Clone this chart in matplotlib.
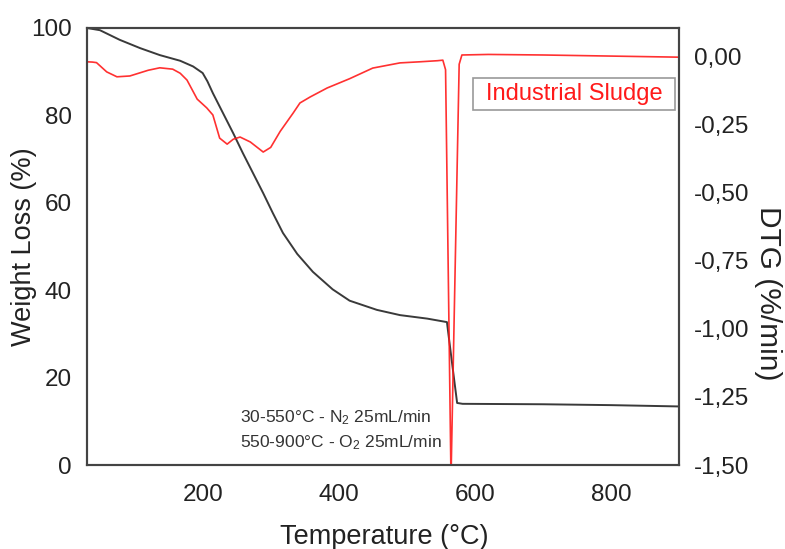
import matplotlib.pyplot as plt
from matplotlib.patches import Rectangle
from matplotlib.ticker import FuncFormatter

plt.rcParams['font.family'] = ['Liberation Sans', 'DejaVu Sans']
plt.rcParams['mathtext.fontset'] = 'custom'
plt.rcParams['mathtext.rm'] = 'Liberation Sans'
plt.rcParams['mathtext.it'] = 'Liberation Sans:italic'

# TG curve: weight (%) vs temperature (°C)
temp_tg = [30, 49, 78, 108, 137, 167, 186, 200, 207, 215, 230, 245, 259, 274,
           289, 303, 318, 339, 362, 391, 416, 456, 490, 530, 559, 566, 574,
           582, 700, 800, 900]
weight = [100, 99.5, 97.3, 95.4, 93.8, 92.5, 91.2, 89.7, 87.8, 85.1, 80.5,
          75.9, 71.4, 66.8, 62.2, 57.7, 53.1, 48.3, 44.2, 40.2, 37.6, 35.5,
          34.3, 33.5, 32.7, 24.0, 14.2, 14.0, 13.9, 13.7, 13.4]

# DTG curve: %/min vs temperature (°C)
temp_dtg = [30, 38, 44, 59, 74, 93, 120, 137, 156, 167, 177, 192, 206, 215,
            225, 236, 245, 255, 270, 289, 300, 314, 333, 343, 358, 383, 416,
            450, 490, 519, 545, 553, 557, 565, 577, 581, 620, 700, 800, 900]
dtg = [-0.021, -0.022, -0.024, -0.058, -0.076, -0.073, -0.052, -0.043,
       -0.048, -0.063, -0.088, -0.158, -0.190, -0.216, -0.301, -0.323, -0.305,
       -0.297, -0.315, -0.352, -0.335, -0.276, -0.209, -0.172, -0.150, -0.117,
       -0.083, -0.044, -0.025, -0.021, -0.017, -0.015, -0.050, -1.550, -0.030,
       0.004, 0.006, 0.004, 0.000, -0.004]

wt_ticks = [0, 20, 40, 60, 80, 100]
dtg_ticks = [-1.5, -1.25, -1.0, -0.75, -0.5, -0.25, 0.0]
x_ticks = [200, 400, 600, 800]

fig = plt.figure(figsize=(7.85, 5.49), dpi=100)
ax = fig.add_axes([0.1108, 0.153, 0.7541, 0.796])
ax2 = ax.twinx()

ax.plot(temp_tg, weight, color='#3a3a3a', lw=1.4)
ax2.plot(temp_dtg, dtg, color='#ff1a1a', lw=1.2, alpha=0.9)

ax.set_xlim(30, 900)
ax.set_ylim(0, 100)
ax2.set_ylim(-1.5, 0.103)
ax.set_xticks(x_ticks)
ax.set_yticks(wt_ticks)
ax2.set_yticks(dtg_ticks)
ax2.yaxis.set_major_formatter(FuncFormatter(lambda v, p: f"{v:.2f}".replace('.', ',')))

ax.tick_params(axis='x', length=0, pad=14, labelsize=17.5, labelcolor='#222222')
ax.tick_params(axis='y', length=0, pad=11, labelsize=17.5, labelcolor='#222222')
ax2.tick_params(axis='y', length=0, pad=11, labelsize=17.5, labelcolor='#222222')

for a in (ax, ax2):
    for s in a.spines.values():
        s.set_color('#444444')
        s.set_linewidth(1.5)

ax.set_xlabel('Temperature (°C)', fontsize=19.5, color='#222222')
ax.set_ylabel('Weight Loss (%)', fontsize=19.5, color='#222222')
ax2.set_ylabel('DTG (%/min)', fontsize=21.5, color='#222222', rotation=270)
ax.xaxis.set_label_coords(0.502, -0.135)
ax.yaxis.set_label_coords(-0.0845, 0.5)
ax2.yaxis.set_label_coords(1.174, 0.392)

# gas atmosphere notes
ax.text(255, 10.9, '30-550°C - N$_2$ 25mL/min', fontsize=12.5, color='#333333',
        va='center', ha='left')
ax.text(255, 5.1, '550-900°C - O$_2$ 25mL/min', fontsize=12.5, color='#333333',
        va='center', ha='left')

# series label box
ax2.add_patch(Rectangle((0.652, 0.812), 0.341, 0.074, transform=ax2.transAxes,
                        facecolor='white', edgecolor='#999999', lw=1.2, zorder=5))
ax2.text(0.8225, 0.849, 'Industrial Sludge', transform=ax2.transAxes,
         fontsize=17, color='#ff1a1a', ha='center', va='center', zorder=6)

fig.savefig('out.png', dpi=100)
